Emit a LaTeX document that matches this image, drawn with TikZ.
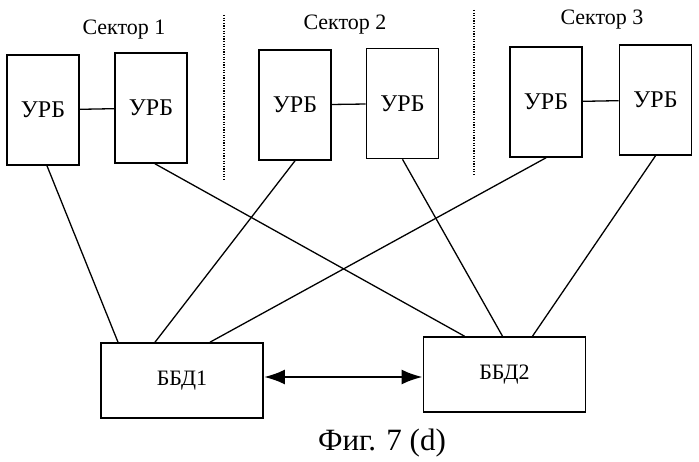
\documentclass[tikz,border=0pt]{standalone}
\usepackage{fontspec}
\setmainfont{Liberation Serif}
\usepackage{tikz}
\usetikzlibrary{arrows.meta}

\begin{document}
\begin{tikzpicture}[x=1pt, y=-1pt,
      urb/.style={draw=black, line width=1.6pt, minimum width=72pt, minimum height=110pt,
        font=\fontsize{24}{28}\selectfont},
      bbd/.style={draw=black, line width=1.6pt, minimum width=162pt, minimum height=75pt,
        font=\fontsize{22}{26}\selectfont},
      sector/.style={font=\fontsize{22}{26}\selectfont},
      link/.style={line width=1.3pt},
      border/.style={line width=1.6pt, dash pattern=on 1.3pt off 1.3pt}]
      \useasboundingbox (0, 0) rectangle (699, 462);
      % sectors
      \node[sector] (s1) at (124, 30) {Сектор 1};
      \node[sector] (s2) at (345, 25) {Сектор 2};
      \node[sector] (s3) at (602, 20) {Сектор 3};
      \draw[border] (224, 15) -- (224, 180);
      \draw[border] (474, 10) -- (474, 175);
      % radio blocks
      \node[urb] (u1) at (43, 110) {УРБ};
      \node[urb] (u2) at (151, 108) {УРБ};
      \node[urb] (u3) at (295, 105) {УРБ};
      \node[urb] (u4) at (402.5, 103.5) {УРБ};
      \node[urb] (u5) at (546, 102) {УРБ};
      \node[urb] (u6) at (655.5, 100) {УРБ};
      \draw[link] (u1) -- (u2);
      \draw[link] (u3) -- (u4);
      \draw[link] (u5) -- (u6);
      % databases
      \node[bbd] (b1) at (182, 380.5) {ББД1};
      \node[bbd] (b2) at (504.5, 374.5) {ББД2};
      \draw[line width=2.8pt, {Latex[length=21pt,width=15pt]}-{Latex[length=21pt,width=15pt]}]
      (b1.east |- 0, 377) -- (b2.west |- 0, 377);
      \draw[link] ([xshift=4pt]u1.south) -- ([xshift=-64pt]b1.north);
      \draw[link] ([xshift=4pt]u2.south) -- ([xshift=-40pt]b2.north);
      \draw[link] (u3.south) -- ([xshift=-27pt]b1.north);
      \draw[link] (u4.south) -- ([xshift=-2pt]b2.north);
      \draw[link] (u5.south) -- ([xshift=28pt]b1.north);
      \draw[link] (u6.south) -- ([xshift=28pt]b2.north);
      \node[font=\fontsize{31}{36}\selectfont] (fig) at (382, 443) {Фиг. 7 (d)};
    \end{tikzpicture}
\end{document}
